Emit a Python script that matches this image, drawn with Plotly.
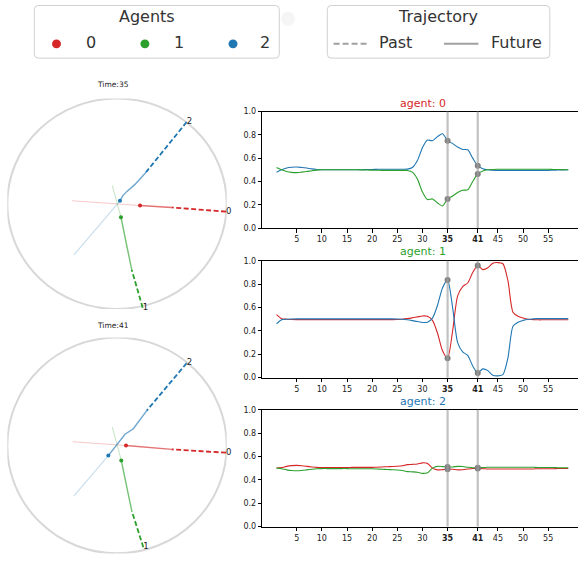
import plotly.graph_objects as go

W, H = 578, 563
FONT = "DejaVu Sans"

# ---------------- data ----------------
agent_ids = ["0", "1", "2"]
agent_colors = ["#d62728", "#2ca02c", "#1f77b4"]
time_marks = [35, 41]
steps = list(range(1, 60))
x_tick_vals = [5, 10, 15, 20, 25, 30, 35, 41, 45, 50, 55]
x_tick_text = ["5", "10", "15", "20", "25", "30", "<b>35</b>", "<b>41</b>", "45", "50", "55"]
y_tick_vals = [0.0, 0.2, 0.4, 0.6, 0.8, 1.0]
y_tick_text = ["0.0", "0.2", "0.4", "0.6", "0.8", "1.0"]

# attention of agent 0 towards agent 2 (blue) and agent 1 (green)
att_a0_to2 = [0.48, 0.50, 0.515, 0.522, 0.524, 0.52, 0.515, 0.508, 0.503, 0.50,
              0.50, 0.50, 0.50, 0.50, 0.50, 0.50, 0.50, 0.501, 0.502, 0.503,
              0.504, 0.505, 0.505, 0.505, 0.505, 0.505, 0.506, 0.52, 0.58, 0.69,
              0.755, 0.75, 0.785, 0.81, 0.75, 0.725, 0.695, 0.675, 0.672, 0.60,
              0.535, 0.51, 0.50, 0.497, 0.495, 0.495, 0.495, 0.495, 0.495, 0.495,
              0.495, 0.495, 0.495, 0.495, 0.495, 0.497, 0.498, 0.499, 0.50]
att_a0_to1 = [0.52, 0.50, 0.485, 0.478, 0.476, 0.48, 0.485, 0.492, 0.497, 0.50,
              0.50, 0.50, 0.50, 0.50, 0.50, 0.50, 0.50, 0.499, 0.498, 0.497,
              0.496, 0.495, 0.495, 0.495, 0.495, 0.495, 0.494, 0.48, 0.42, 0.31,
              0.245, 0.25, 0.215, 0.19, 0.25, 0.275, 0.305, 0.325, 0.328, 0.40,
              0.465, 0.49, 0.50, 0.503, 0.505, 0.505, 0.505, 0.505, 0.505, 0.505,
              0.505, 0.505, 0.505, 0.505, 0.505, 0.503, 0.502, 0.501, 0.50]
# attention of agent 1 towards agent 0 (red) and agent 2 (blue)
att_a1_to0 = [0.54, 0.505, 0.50, 0.498, 0.497, 0.497, 0.497, 0.497, 0.497, 0.497,
              0.497, 0.497, 0.497, 0.497, 0.497, 0.497, 0.497, 0.497, 0.497, 0.497,
              0.497, 0.497, 0.497, 0.497, 0.498, 0.50, 0.505, 0.512, 0.52, 0.528,
              0.525, 0.49, 0.38, 0.23, 0.165, 0.40, 0.70, 0.78, 0.81, 0.90,
              0.96, 0.925, 0.94, 0.98, 0.985, 0.975, 0.83, 0.56, 0.525, 0.51,
              0.50, 0.497, 0.495, 0.495, 0.495, 0.495, 0.495, 0.495, 0.495]
att_a1_to2 = [0.46, 0.495, 0.50, 0.502, 0.503, 0.503, 0.503, 0.503, 0.503, 0.503,
              0.503, 0.503, 0.503, 0.503, 0.503, 0.503, 0.503, 0.503, 0.503, 0.503,
              0.503, 0.503, 0.503, 0.503, 0.502, 0.50, 0.495, 0.488, 0.48, 0.472,
              0.475, 0.51, 0.62, 0.77, 0.835, 0.60, 0.30, 0.22, 0.19, 0.10,
              0.04, 0.075, 0.06, 0.02, 0.015, 0.025, 0.17, 0.44, 0.475, 0.49,
              0.50, 0.503, 0.505, 0.505, 0.505, 0.505, 0.505, 0.505, 0.505]
# attention of agent 2 towards agent 0 (red) and agent 1 (green)
att_a2_to0 = [0.50, 0.505, 0.515, 0.521, 0.523, 0.52, 0.515, 0.51, 0.506, 0.504,
              0.504, 0.504, 0.504, 0.504, 0.504, 0.506, 0.506, 0.506, 0.506, 0.506,
              0.508, 0.51, 0.512, 0.514, 0.516, 0.52, 0.53, 0.532, 0.535, 0.545,
              0.54, 0.50, 0.485, 0.487, 0.49, 0.49, 0.485, 0.486, 0.492, 0.497,
              0.497, 0.495, 0.493, 0.493, 0.493, 0.493, 0.493, 0.493, 0.493, 0.493,
              0.493, 0.493, 0.495, 0.495, 0.495, 0.495, 0.497, 0.497, 0.497]
att_a2_to1 = [0.50, 0.495, 0.485, 0.479, 0.477, 0.48, 0.485, 0.49, 0.494, 0.496,
              0.496, 0.496, 0.496, 0.496, 0.496, 0.494, 0.494, 0.494, 0.494, 0.494,
              0.492, 0.49, 0.488, 0.486, 0.484, 0.48, 0.47, 0.468, 0.465, 0.455,
              0.46, 0.50, 0.515, 0.513, 0.51, 0.51, 0.515, 0.514, 0.508, 0.503,
              0.503, 0.505, 0.507, 0.507, 0.507, 0.507, 0.507, 0.507, 0.507, 0.507,
              0.507, 0.507, 0.505, 0.505, 0.505, 0.505, 0.503, 0.503, 0.503]

# trajectories in the unit-circle frame, per time mark, per agent
traj_past = {
    35: {"0": ([0.994, 0.499], [-0.075, -0.035]),
         "1": ([0.234, 0.134], [-0.988, -0.626]),
         "2": ([0.635, 0.265], [0.776, 0.300])},
    41: {"0": ([0.994, 0.499], [-0.067, -0.036]),
         "1": ([0.240, 0.134], [-0.944, -0.604]),
         "2": ([0.635, 0.271], [0.763, 0.323])},
}
traj_future = {
    35: {"0": ([0.499, 0.35, 0.21], [-0.035, -0.026, -0.016]),
         "1": ([0.134, 0.036], [-0.626, -0.128]),
         "2": ([0.265, 0.164, 0.088, 0.052, 0.027], [0.300, 0.184, 0.115, 0.075, 0.028])},
    41: {"0": ([0.499, 0.24, 0.082], [-0.036, -0.010, 0.0]),
         "1": ([0.134, 0.039], [-0.604, -0.139]),
         "2": ([0.271, 0.149, 0.073, -0.079], [0.323, 0.155, 0.104, -0.094])},
}
traj_ghost = {
    35: {"0": ([0.21, -0.41], [-0.016, 0.028]),
         "1": ([0.036, -0.043], [-0.128, 0.175]),
         "2": ([0.027, -0.392], [0.028, -0.486])},
    41: {"0": ([0.082, -0.404], [0.0, 0.034]),
         "1": ([0.039, -0.043], [-0.139, 0.170]),
         "2": ([-0.079, -0.392], [-0.094, -0.468])},
}

# ---------------- helpers ----------------
def fx(px):
    return px / W

def fy(py):
    return 1 - py / H

def rgba(hexc, a):
    h = hexc.lstrip("#")
    return "rgba(%d,%d,%d,%.2f)" % (int(h[0:2], 16), int(h[2:4], 16), int(h[4:6], 16), a)

fig = go.Figure()
shapes = []
annotations = []

# ---------------- polar-like panels ----------------
polar_axes = [("x", "y", 35), ("x2", "y2", 41)]
polar_title_y = {35: 81.5, 41: 326.5}
for xa, ya, t in polar_axes:
    shapes.append(dict(type="circle", xref=xa, yref=ya, x0=-1, y0=-1, x1=1, y1=1,
                       line=dict(color="#d8d8d8", width=2), layer="below"))
    for i, aid in enumerate(agent_ids):
        c = agent_colors[i]
        gx, gy = traj_ghost[t][aid]
        fig.add_trace(go.Scatter(x=gx, y=gy, xaxis=xa, yaxis=ya, mode="lines",
                                 line=dict(color=rgba(c, 0.25), width=1.1), hoverinfo="skip"))
        fxs, fys = traj_future[t][aid]
        fig.add_trace(go.Scatter(x=fxs, y=fys, xaxis=xa, yaxis=ya, mode="lines",
                                 line=dict(color=rgba(c, 0.65), width=1.4), hoverinfo="skip"))
        pxs, pys = traj_past[t][aid]
        fig.add_trace(go.Scatter(x=pxs, y=pys, xaxis=xa, yaxis=ya, mode="lines",
                                 line=dict(color=c, width=1.8, dash="5px,2.5px"), hoverinfo="skip"))
        fig.add_trace(go.Scatter(x=[fxs[-1]], y=[fys[-1]], xaxis=xa, yaxis=ya, mode="markers",
                                 marker=dict(color=c, size=4), hoverinfo="skip"))
        fig.add_trace(go.Scatter(x=[pxs[0]], y=[pys[0]], xaxis=xa, yaxis=ya, mode="text",
                                 text=[aid], textposition="middle right",
                                 textfont=dict(size=8.5, color="#222", family=FONT),
                                 cliponaxis=False, hoverinfo="skip"))
    annotations.append(dict(xref="paper", yref="paper", x=fx(113), y=fy(polar_title_y[t]),
                            text="Time:%d" % t, showarrow=False,
                            font=dict(size=7.5, color="#222", family=FONT),
                            xanchor="center", yanchor="middle"))

# ---------------- attention panels ----------------
panels = [
    ("x3", "y3", 0, [(att_a0_to2, 2), (att_a0_to1, 1)], 101.5),
    ("x4", "y4", 1, [(att_a1_to0, 0), (att_a1_to2, 2)], 252),
    ("x5", "y5", 2, [(att_a2_to0, 0), (att_a2_to1, 1)], 403.5),
]
for xa, ya, ag, series, ty in panels:
    for t in time_marks:
        shapes.append(dict(type="line", xref=xa, yref=ya + " domain", x0=t, x1=t, y0=0, y1=1,
                           line=dict(color="rgba(160,160,160,0.65)", width=2.2), layer="above"))
    for vals, tgt in series:
        fig.add_trace(go.Scatter(x=steps, y=vals, xaxis=xa, yaxis=ya, mode="lines",
                                 line=dict(color=agent_colors[tgt], width=1.1, shape="spline",
                                           smoothing=0.7), hoverinfo="skip"))
    for vals, tgt in series:
        fig.add_trace(go.Scatter(x=time_marks, y=[vals[steps.index(t)] for t in time_marks],
                                 xaxis=xa, yaxis=ya, mode="markers",
                                 marker=dict(color="#808080", size=6), hoverinfo="skip"))
    annotations.append(dict(xref="paper", yref="paper", x=fx(422.5), y=fy(ty),
                            text="agent: %s" % agent_ids[ag], showarrow=False,
                            font=dict(size=11, color=agent_colors[ag], family=FONT),
                            xanchor="center", yanchor="middle"))

# ---------------- legend (drawn) ----------------
def rounded(x0, y0, x1, y1, r):
    X0, X1 = fx(x0), fx(x1)
    Y0, Y1 = fy(y0), fy(y1)
    rx, ry = r / W, r / H
    return ("M %f,%f L %f,%f Q %f,%f %f,%f L %f,%f Q %f,%f %f,%f L %f,%f Q %f,%f %f,%f "
            "L %f,%f Q %f,%f %f,%f Z") % (
        X0 + rx, Y0, X1 - rx, Y0, X1, Y0, X1, Y0 - ry, X1, Y1 + ry, X1, Y1, X1 - rx, Y1,
        X0 + rx, Y1, X0, Y1, X0, Y1 + ry, X0, Y0 - ry, X0, Y0, X0 + rx, Y0)

LEG_TITLE_Y = 12.5
LEG_ITEM_Y = 40.5
LEG_TEXT_Y = 39.5
for bx0, bx1 in [(34.3, 279.3), (327.3, 549.8)]:
    shapes.append(dict(type="path", xref="paper", yref="paper", path=rounded(bx0, 1.5, bx1, 55, 4),
                       line=dict(color="#d0d0d0", width=1), fillcolor="rgba(255,255,255,0.8)"))
shapes.append(dict(type="circle", xref="paper", yref="paper", x0=fx(281), x1=fx(295),
                   y0=fy(22), y1=fy(8), line=dict(width=0), fillcolor="rgba(235,235,235,0.5)",
                   layer="below"))
annotations.append(dict(xref="paper", yref="paper", x=fx(147), y=fy(LEG_TITLE_Y), text="Agents",
                        showarrow=False, font=dict(size=16, color="#333", family=FONT),
                        xanchor="center", yanchor="middle"))
annotations.append(dict(xref="paper", yref="paper", x=fx(437.5), y=fy(LEG_TITLE_Y), text="Trajectory",
                        showarrow=False, font=dict(size=16, color="#333", family=FONT),
                        xanchor="center", yanchor="middle"))
leg_dot_x = [56.5, 144.9, 233]
leg_txt_x = [91, 178.8, 265.4]
for i, aid in enumerate(agent_ids):
    r = 4.5
    shapes.append(dict(type="circle", xref="paper", yref="paper",
                       x0=fx(leg_dot_x[i] - r), x1=fx(leg_dot_x[i] + r),
                       y0=fy(LEG_ITEM_Y + r), y1=fy(LEG_ITEM_Y - r), line=dict(width=0),
                       fillcolor=agent_colors[i]))
    annotations.append(dict(xref="paper", yref="paper", x=fx(leg_txt_x[i]), y=fy(LEG_TEXT_Y), text=aid,
                            showarrow=False, font=dict(size=16, color="#333", family=FONT),
                            xanchor="center", yanchor="middle"))
shapes.append(dict(type="line", xref="paper", yref="paper", x0=fx(333.6), x1=fx(366.7),
                   y0=fy(LEG_ITEM_Y), y1=fy(LEG_ITEM_Y), line=dict(color="#a0a0a0", width=2, dash="6px,3px")))
shapes.append(dict(type="line", xref="paper", yref="paper", x0=fx(444), x1=fx(478.4),
                   y0=fy(LEG_ITEM_Y), y1=fy(LEG_ITEM_Y), line=dict(color="#a0a0a0", width=2)))
annotations.append(dict(xref="paper", yref="paper", x=fx(395), y=fy(LEG_TEXT_Y), text="Past",
                        showarrow=False, font=dict(size=16, color="#333", family=FONT),
                        xanchor="center", yanchor="middle"))
annotations.append(dict(xref="paper", yref="paper", x=fx(516), y=fy(LEG_TEXT_Y), text="Future",
                        showarrow=False, font=dict(size=16, color="#333", family=FONT),
                        xanchor="center", yanchor="middle"))

# ---------------- layout ----------------
layout = dict(width=W, height=H, margin=dict(l=0, r=0, t=0, b=0), showlegend=False,
              plot_bgcolor="white", paper_bgcolor="white", font=dict(family=FONT),
              shapes=shapes, annotations=annotations)
hidden = dict(visible=False, range=[-1, 1], fixedrange=True)
layout["xaxis"] = dict(hidden, domain=[fx(7.3), fx(226.7)])
layout["yaxis"] = dict(hidden, domain=[fy(310), fy(96)])
layout["xaxis2"] = dict(hidden, domain=[fx(7.3), fx(226.7)])
layout["yaxis2"] = dict(hidden, domain=[fy(558.3), fy(339)])
for idx, (top, bot) in zip([3, 4, 5], [(109.3, 227.7), (261, 379.7), (412.3, 531)]):
    layout["xaxis%d" % idx] = dict(domain=[fx(262.3), 1], range=[-1.84, 60.93], anchor="y%d" % idx,
                                   showline=True, linecolor="black", linewidth=1, mirror=True,
                                   ticks="outside", ticklen=3.5, tickcolor="black",
                                   tickvals=x_tick_vals, ticktext=x_tick_text,
                                   tickfont=dict(size=8, color="#222", family=FONT),
                                   showgrid=False, zeroline=False)
    layout["yaxis%d" % idx] = dict(domain=[fy(bot), fy(top)], range=[0, 1], anchor="x%d" % idx,
                                   showline=True, linecolor="black", linewidth=1,
                                   ticks="outside", ticklen=3.5, tickcolor="black",
                                   tickvals=y_tick_vals, ticktext=y_tick_text,
                                   tickfont=dict(size=8, color="#222", family=FONT),
                                   showgrid=False, zeroline=False)
fig.update_layout(**layout)
fig.write_html("out.html", config={"displayModeBar": False},
               post_script="document.body.style.margin='0';document.body.style.overflow='hidden';")
